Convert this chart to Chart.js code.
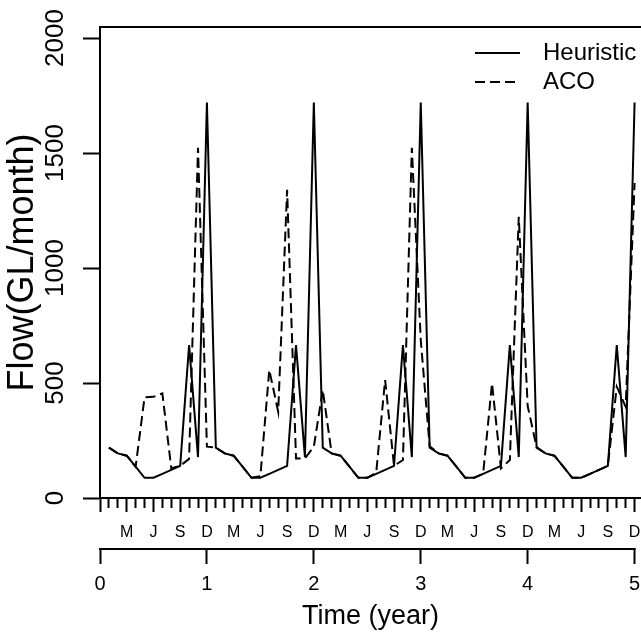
<!DOCTYPE html>
<html>
<head>
<meta charset="utf-8">
<script src="https://cdn.jsdelivr.net/npm/chart.js@4.4.1/dist/chart.umd.min.js"></script>
<style>
  html, body { margin: 0; padding: 0; background: #fff; overflow: hidden; }
  canvas { display: block; }
</style>
</head>
<body>
<canvas id="flow-chart" width="641" height="635"></canvas>
<script>
// monthly flow, Jan of year 1 .. Dec of year 5 (GL/month)
const heuristicFlow = [
  219, 194, 184, 136, 88, 88, 105, 122, 140, 665, 178, 1720,
  219, 194, 184, 136, 88, 88, 105, 122, 140, 665, 178, 1720,
  219, 194, 184, 136, 88, 88, 105, 122, 140, 665, 178, 1720,
  219, 194, 184, 136, 88, 88, 105, 122, 140, 665, 178, 1720,
  219, 194, 184, 136, 88, 88, 105, 122, 140, 665, 178, 1720,
];
const acoFlow = [
  219, 194, 184, 136, 438, 440, 455, 129, 140, 170, 1523, 223,
  219, 194, 184, 136, 88, 95, 557, 375, 1340, 172, 172, 223,
  470, 194, 184, 136, 88, 88, 110, 513, 140, 165, 1523, 687,
  225, 194, 184, 136, 88, 88, 105, 499, 129, 165, 1223, 400,
  222, 194, 184, 136, 88, 88, 105, 122, 140, 484, 397, 1370,
];
const seriesNames = ["Heuristic", "ACO"];
const monthLabels = ["M", "J", "S", "D"];
const yearTicks = [0, 1, 2, 3, 4, 5];
const flowTicks = [0, 500, 1000, 1500, 2000];

const Ink = "#000";
const fontFamily = "'Liberation Sans', Arial, Helvetica, sans-serif";

Chart.defaults.font.family = fontFamily;
Chart.defaults.color = Ink;

function toPoints(values) {
  return values.map((v, i) => ({ x: (i + 1) / 12, y: v }));
}

function fixSize(size) {
  return scale => {
    if (scale.isHorizontal()) scale.height = size;
    else scale.width = size;
    scale.paddingLeft = 0;
    scale.paddingRight = 0;
    scale.paddingTop = 0;
    scale.paddingBottom = 0;
  };
}

// box top, year axis line, rotated y labels and the legend
const frameAndLabels = {
  id: "frameAndLabels",
  afterDraw(chart) {
    const { ctx, chartArea: area, scales } = chart;
    ctx.save();
    ctx.strokeStyle = Ink;
    ctx.fillStyle = Ink;
    ctx.lineWidth = 2;

    ctx.beginPath();
    ctx.moveTo(area.left - 1, area.top);
    ctx.lineTo(area.right, area.top);
    ctx.stroke();

    const yr = scales.xYear;
    ctx.beginPath();
    ctx.moveTo(yr.getPixelForValue(yearTicks[0]) - 1, yr.top + 1);
    ctx.lineTo(yr.getPixelForValue(yearTicks[yearTicks.length - 1]) + 1, yr.top + 1);
    ctx.stroke();

    const y = scales.y;
    ctx.font = `26px ${fontFamily}`;
    ctx.textAlign = "center";
    ctx.textBaseline = "middle";
    flowTicks.forEach(v => {
      ctx.save();
      ctx.translate(56, y.getPixelForValue(v));
      ctx.rotate(-Math.PI / 2);
      ctx.fillText(String(v), 0, 0);
      ctx.restore();
    });

    ctx.font = `24px ${fontFamily}`;
    ctx.textAlign = "left";
    chart.data.datasets.forEach((ds, i) => {
      const ly = 53 + i * 29;
      ctx.setLineDash(ds.borderDash || []);
      ctx.beginPath();
      ctx.moveTo(475, ly);
      ctx.lineTo(520, ly);
      ctx.stroke();
      ctx.setLineDash([]);
      ctx.fillText(ds.label, 543, ly);
    });
    ctx.restore();
  },
};

new Chart(document.getElementById("flow-chart"), {
  type: "line",
  data: {
    datasets: [
      {
        label: seriesNames[0],
        data: toPoints(heuristicFlow),
        borderColor: Ink,
        borderWidth: 2,
        pointRadius: 0,
        tension: 0,
      },
      {
        label: seriesNames[1],
        data: toPoints(acoFlow),
        borderColor: Ink,
        borderWidth: 2,
        borderDash: [10, 5],
        pointRadius: 0,
        tension: 0,
      },
    ],
  },
  options: {
    responsive: false,
    devicePixelRatio: 1,
    animation: false,
    events: [],
    layout: { padding: { top: 27, left: 0, right: 0, bottom: 0 } },
    plugins: { legend: { display: false }, tooltip: { enabled: false } },
    scales: {
      x: {
        type: "linear",
        position: "bottom",
        weight: 0,
        min: 0,
        max: 5.06,
        bounds: "data",
        afterBuildTicks: s => {
          s.ticks = Array.from({ length: 61 }, (_, k) => ({ value: k / 12 }));
        },
        afterFit: fixSize(50),
        grid: {
          drawOnChartArea: false,
          tickLength: 14,
          tickWidth: 2,
          tickColor: Ink,
          tickBorderDash: c => (c.index % 3 === 0 ? [] : [9, 40]),
        },
        border: { display: true, color: Ink, width: 2 },
        ticks: {
          autoSkip: false,
          maxRotation: 0,
          minRotation: 0,
          padding: 11,
          color: Ink,
          font: { size: 16 },
          callback: (v, k) => (k > 0 && k % 3 === 0 ? monthLabels[(k / 3 - 1) % 4] : ""),
        },
      },
      xYear: {
        type: "linear",
        axis: "x",
        position: "bottom",
        weight: 1,
        min: 0,
        max: 5.06,
        bounds: "data",
        afterBuildTicks: s => {
          s.ticks = yearTicks.map(v => ({ value: v }));
        },
        afterFit: fixSize(87),
        grid: { drawOnChartArea: false, tickLength: 16, tickWidth: 2, tickColor: Ink },
        border: { display: false },
        ticks: {
          autoSkip: false,
          maxRotation: 0,
          minRotation: 0,
          padding: 8,
          color: Ink,
          font: { size: 20 },
          callback: v => String(v),
        },
        title: {
          display: true,
          text: "Time (year)",
          color: Ink,
          font: { size: 27 },
          padding: { top: 0, bottom: 2 },
        },
      },
      y: {
        type: "linear",
        position: "left",
        min: 0,
        max: 2048,
        bounds: "data",
        afterBuildTicks: s => {
          s.ticks = flowTicks.map(v => ({ value: v }));
        },
        afterFit: fixSize(100),
        grid: { drawOnChartArea: false, tickLength: 17, tickWidth: 2, tickColor: Ink },
        border: { display: true, color: Ink, width: 2 },
        ticks: { display: false },
        title: {
          display: true,
          text: "Flow(GL/month)",
          color: Ink,
          font: { size: 36 },
          padding: { top: 1, bottom: 0 },
        },
      },
    },
  },
  plugins: [frameAndLabels],
});
</script>
</body>
</html>
